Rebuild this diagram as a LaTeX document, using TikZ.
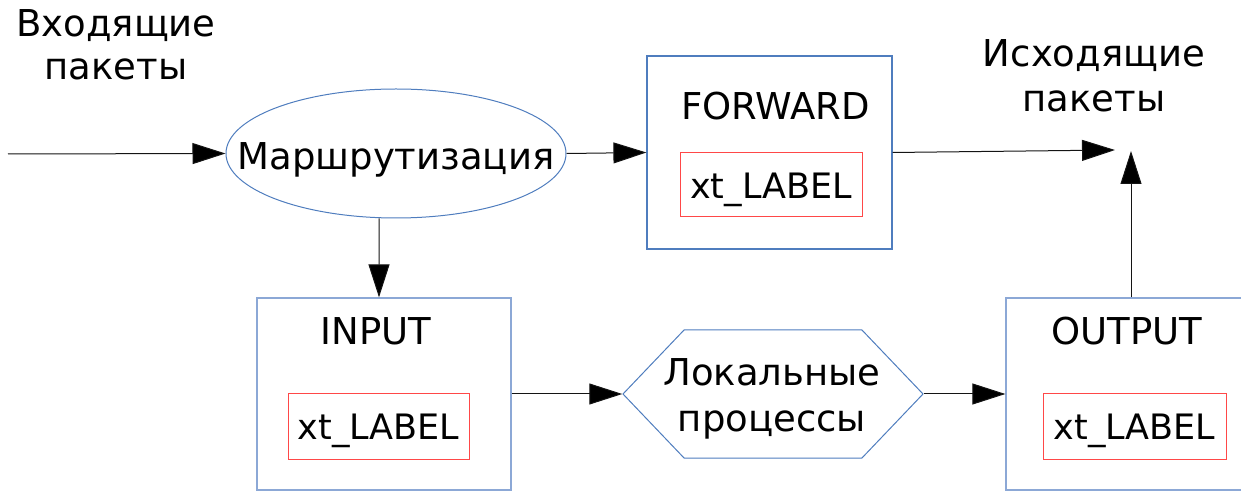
\documentclass[tikz,border=0pt]{standalone}
\usepackage{fontspec}
\setmainfont{DejaVu Sans}
\usetikzlibrary{arrows.meta,shapes.geometric,shapes.symbols}

\definecolor{chainblue}{RGB}{79,125,190}
\definecolor{paleblue}{RGB}{140,168,214}
\definecolor{tagred}{RGB}{255,72,72}
\definecolor{wire}{RGB}{20,20,20}

\tikzset{
  txt/.style={font=\fontsize{37bp}{44bp}\selectfont, inner sep=0pt, align=center},
  chainbox/.style={draw=#1, line width=1.2bp, minimum width=254bp, minimum height=192bp, inner sep=0pt},
  tagbox/.style={draw=tagred, line width=1bp, minimum height=65bp, inner sep=0pt,
    font=\fontsize{35bp}{42bp}\selectfont, text height=26bp, text depth=0pt},
  flow/.style={draw=wire, line width=1bp, -{Triangle[length=33bp,width=21bp,fill=black]}},
}

\begin{document}
\begin{tikzpicture}[x=1bp,y=-1bp]
\useasboundingbox (0,0) rectangle (1241,491);

% routing decision
\node[ellipse, draw=chainblue, line width=1bp, minimum width=340bp, minimum height=129bp, inner sep=0pt,
      label={[txt, text height=33bp, text depth=0pt]center:Маршрутизация}] (route) at (396,153.5) {};

% FORWARD chain
\node[chainbox=chainblue, minimum width=245bp, minimum height=193bp] (fwd) at (769.5,152.5) {};
\node[txt, anchor=base] (fwdtitle) at (775.5,120) {FORWARD};
\node[tagbox, minimum width=182bp, minimum height=64bp, text height=27bp] (fwdtag) at (771,185) {xt\_LABEL};

% INPUT chain
\node[chainbox=paleblue] (input) at (384,394) {};
\node[txt, anchor=base] (intitle) at (376,345) {INPUT};
\node[tagbox, minimum width=181bp] (intag) at (378.5,426.5) {xt\_LABEL};

% OUTPUT chain
\node[chainbox=paleblue] (output) at (1133,394) {};
\node[txt, anchor=base] (outtitle) at (1127,345) {OUTPUT};
\node[tagbox, minimum width=183bp] (outtag) at (1134.5,426.5) {xt\_LABEL};

% local processes
\node[signal, signal to=west and east, signal pointer angle=92.7, draw=chainblue, line width=1bp,
      minimum width=300bp, minimum height=128bp, inner sep=0pt] (local) at (773,394) {};
% base anchor of a two-line node sits on its last line
\node[txt, font=\fontsize{37bp}{46bp}\selectfont, anchor=base] (localtext) at (772,431) {Локальные\\процессы};

% free labels
\node[txt, font=\fontsize{37bp}{43bp}\selectfont, anchor=base] (inlabel) at (116,80) {Входящие\\пакеты};
\node[txt, font=\fontsize{37bp}{45bp}\selectfont, anchor=base] (outlabel) at (1094,112) {Исходящие\\пакеты};

% connectors
\coordinate (source) at (8,154);
\coordinate (exitA) at (1115,150);
\coordinate (exitB) at (1131,151);
\draw[flow] (source) -- (route.west);
\draw[flow] (route.east) -- (fwd.west);
\draw[flow] (fwd.east) -- (exitA);
\draw[flow] (exitB |- output.north) -- (exitB);
\draw[flow] ([xshift=-17bp]route.south) -- ([xshift=-5bp]input.north);
\draw[flow] (input.east) -- (local.west);
\draw[flow] (local.east) -- (output.west);
\end{tikzpicture}
\end{document}
